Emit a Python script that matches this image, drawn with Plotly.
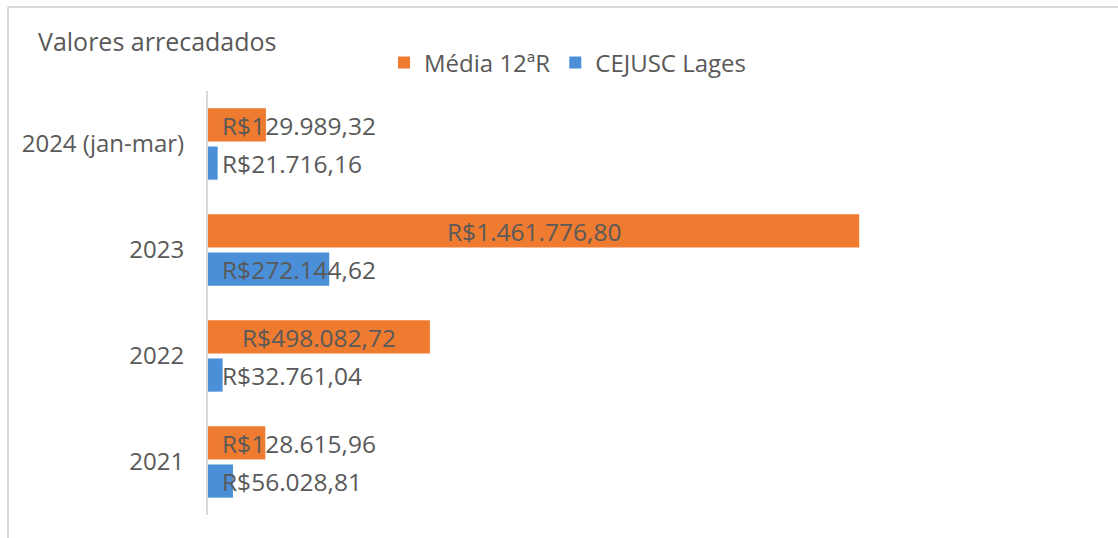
import plotly.graph_objects as go

categories = ["2021", "2022", "2023", "2024 (jan-mar)"]
media_12r = [128615.96, 498082.72, 1461776.80, 129989.32]
cejusc_lages = [56028.81, 32761.04, 272144.62, 21716.16]
series_names = ["Média 12ªR", "CEJUSC Lages"]

W, H = 1118, 538
ML, MR, MT, MB = 208, 19, 91, 23
XMAX = 2_000_000
FONT = "Open Sans"
GRAY = "#595959"
ORANGE = "#EE7B30"
BLUE = "#4A8FD8"
LABEL_SIZE = 24.5


def brl(v):
    s = f"{v:,.2f}"
    s = s.replace(",", "X").replace(".", ",").replace("X", ".")
    return "R$" + s


fig = go.Figure()
fig.add_trace(go.Bar(y=categories, x=cejusc_lages, orientation="h", name=series_names[1],
                     marker=dict(color=BLUE, line=dict(width=0)), legendrank=2,
                     hoverinfo="skip"))
fig.add_trace(go.Bar(y=categories, x=media_12r, orientation="h", name=series_names[0],
                     marker=dict(color=ORANGE, line=dict(width=0)), legendrank=1,
                     hoverinfo="skip"))

plot_w = W - ML - MR
px_per_unit = plot_w / XMAX
annotations = []
for vals, shift in ((media_12r, 19), (cejusc_lages, -19)):
    for idx, v in enumerate(vals):
        txt = brl(v)
        bar_px = v * px_per_unit
        text_px = len(txt) * 12.4
        if bar_px > text_px + 20:
            annotations.append(dict(x=v / 2, y=idx, text=txt, showarrow=False,
                                    xanchor="center", yshift=shift,
                                    font=dict(family=FONT, size=LABEL_SIZE, color=GRAY)))
        else:
            annotations.append(dict(x=0, y=idx, text=txt, showarrow=False,
                                    xanchor="left", xshift=12, yshift=shift,
                                    font=dict(family=FONT, size=LABEL_SIZE, color=GRAY)))

plot_h = H - MT - MB
fx = lambda px: (px - ML) / plot_w
fy = lambda py: (H - MB - py) / plot_h
shapes = [
    dict(type="line", xref="paper", yref="paper", x0=fx(8), x1=fx(W + 5), y0=fy(7), y1=fy(7),
         line=dict(color="#D9D9D9", width=2)),
    dict(type="line", xref="paper", yref="paper", x0=fx(8), x1=fx(8), y0=fy(7), y1=fy(H + 5),
         line=dict(color="#D9D9D9", width=2)),
]

fig.update_layout(
    width=W, height=H,
    margin=dict(l=ML, r=MR, t=MT, b=MB, pad=0, autoexpand=False),
    paper_bgcolor="white", plot_bgcolor="white",
    barmode="group", bargap=0.28, bargroupgap=0.13,
    title=dict(text="Valores arrecadados", x=38 / W, xanchor="left", xref="container",
               y=1 - 42 / H, yanchor="middle", yref="container",
               font=dict(family=FONT, size=25, color=GRAY)),
    legend=dict(orientation="h", xref="container", yref="container",
                x=384 / W, xanchor="left", y=1 - 63 / H, yanchor="middle",
                font=dict(family=FONT, size=24, color=GRAY),
                bgcolor="rgba(0,0,0,0)", itemclick=False),
    xaxis=dict(range=[0, XMAX], visible=False, showgrid=False, zeroline=False, fixedrange=True),
    yaxis=dict(type="category", categoryorder="array", categoryarray=categories,
               range=[-0.5, len(categories) - 0.5],
               showline=True, linecolor="#D9D9D9", linewidth=2, ticks="",
               showgrid=False, zeroline=False, ticklabelstandoff=17, automargin=False,
               tickfont=dict(family=FONT, size=24, color=GRAY), fixedrange=True),
    annotations=annotations,
    shapes=shapes,
    showlegend=True,
)

fig.write_html("out.html", config={"displayModeBar": False},
               post_script="document.body.style.margin='0';document.body.style.overflow='hidden';")
